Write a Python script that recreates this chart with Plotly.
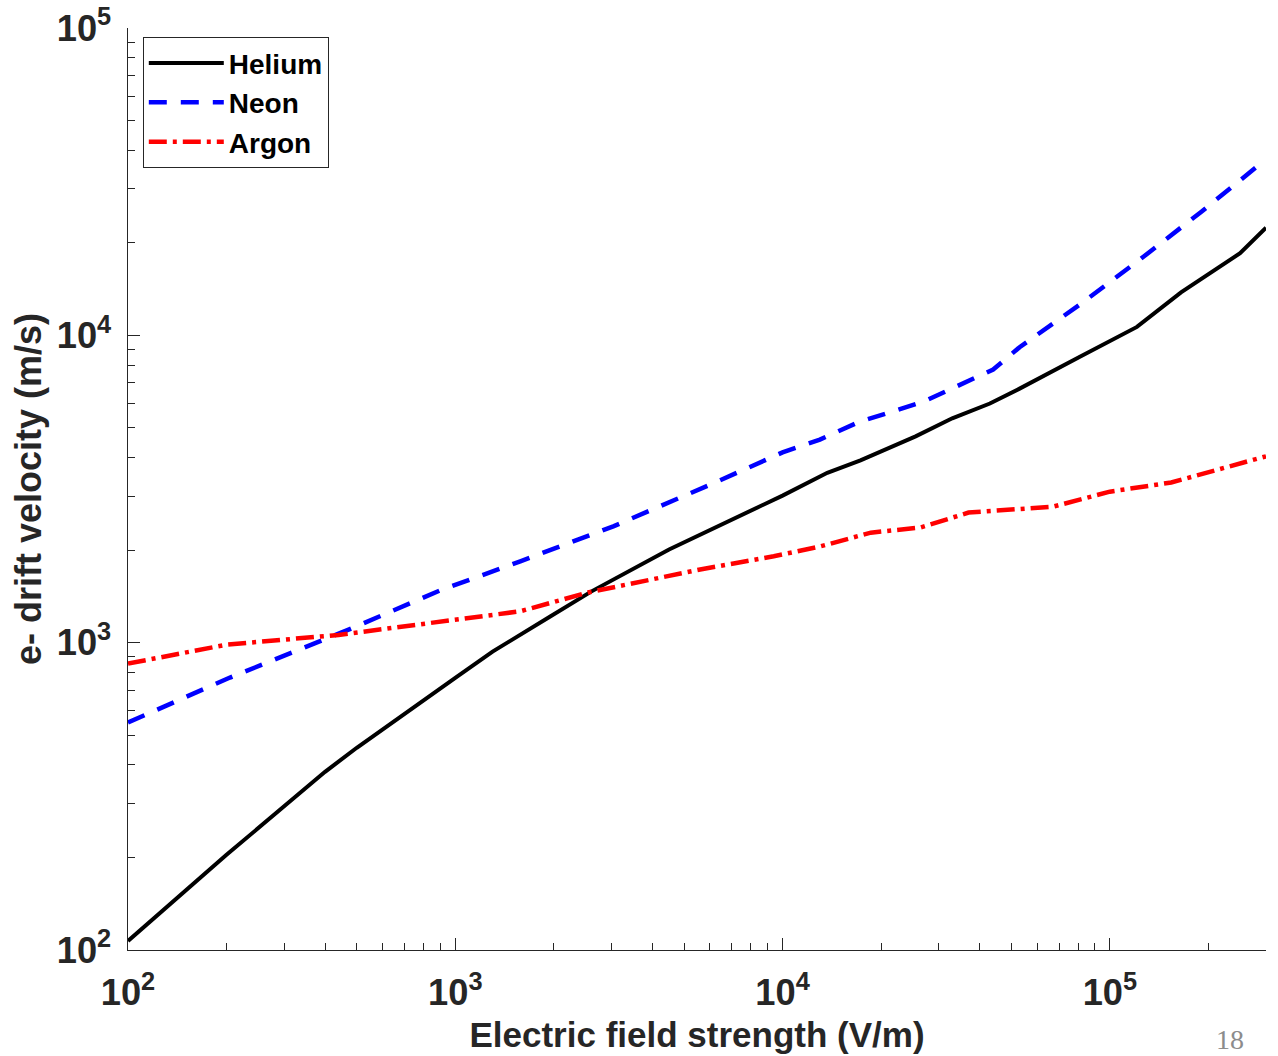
import math
import plotly.graph_objects as go

# Electron drift velocity vs. applied field for three noble gases
helium_E = [100, 200, 400, 500, 1000, 1300, 1950, 2600, 4500, 6000, 7800,
            10000, 13700, 17300, 25500, 33000, 43000, 53000, 81000, 121000,
            165000, 250000, 300000]
helium_v = [107, 204, 380, 455, 768, 935, 1216, 1466, 2010, 2320, 2640,
            3010, 3570, 3920, 4690, 5370, 6000, 6710, 8520, 10650,
            13800, 18500, 22400]

neon_E = [100, 205, 470, 900, 1580, 3040, 6300, 10000, 13000, 17000, 27000,
          44000, 53000, 81000, 124000, 190000, 300000]
neon_v = [550, 770, 1100, 1480, 1840, 2390, 3340, 4160, 4580, 5210, 6090,
          7740, 9150, 12600, 17700, 25200, 37400]

argon_E = [100, 200, 440, 900, 1220, 1580, 2540, 5600, 9400, 13000, 18600,
           26400, 37000, 67000, 100000, 154000, 300000]
argon_v = [855, 985, 1060, 1165, 1215, 1265, 1456, 1730, 1910, 2055, 2280,
           2370, 2650, 2770, 3100, 3320, 4040]

x_range = [100, 300000]
y_range = [100, 100000]

FONT = "Liberation Sans, Arial, sans-serif"
AXIS_COLOR = "#262626"

fig = go.Figure()
fig.add_trace(go.Scatter(x=helium_E, y=helium_v, mode="lines", name="Helium",
                         line=dict(color="black", width=4)))
fig.add_trace(go.Scatter(x=neon_E, y=neon_v, mode="lines", name="Neon",
                         line=dict(color="#0000ff", width=4.5, dash="18px,14px")))
fig.add_trace(go.Scatter(x=argon_E, y=argon_v, mode="lines", name="Argon",
                         line=dict(color="#ff0000", width=4.5,
                                   dash="18px,6px,4px,6px")))

axis_common = dict(
    type="log",
    dtick=1,
    exponentformat="power",
    automargin=False,
    showgrid=False,
    zeroline=False,
    showline=True,
    linecolor=AXIS_COLOR,
    linewidth=1,
    mirror=False,
    ticks="inside",
    ticklen=12,
    tickwidth=1,
    tickcolor=AXIS_COLOR,
    tickfont=dict(family=FONT, size=29, color=AXIS_COLOR, weight="bold"),
    minor=dict(ticks="inside", ticklen=7, tickwidth=1, tickcolor=AXIS_COLOR,
               dtick="D1", showgrid=False),
)

fig.update_xaxes(
    **axis_common,
    range=[math.log10(x_range[0]), math.log10(x_range[1])],
    ticklabelstandoff=12,
    title=dict(text="Electric field strength (V/m)", standoff=10,
               font=dict(family=FONT, size=35, color=AXIS_COLOR, weight="bold")),
)
fig.update_yaxes(
    **axis_common,
    range=[math.log10(y_range[0]), math.log10(y_range[1])],
    ticklabelstandoff=10,
    title=dict(text="e- drift velocity (m/s)", standoff=4,
               font=dict(family=FONT, size=36, color=AXIS_COLOR, weight="bold")),
)

fig.add_annotation(text="18", xref="paper", yref="paper", x=0.982, y=-0.097,
                   xanchor="right", yanchor="middle", showarrow=False,
                   font=dict(family="Liberation Serif, Times New Roman, serif",
                             size=28, color="#8c8c8c"))

fig.update_layout(
    width=1278, height=1056,
    margin=dict(l=128, r=12, t=28, b=106, autoexpand=False),
    paper_bgcolor="white",
    plot_bgcolor="white",
    showlegend=True,
    legend=dict(x=0.013, y=0.99, xanchor="left", yanchor="top",
                bgcolor="white", bordercolor=AXIS_COLOR, borderwidth=1,
                font=dict(family=FONT, size=28, color="black", weight="bold"),
                itemwidth=75, tracegroupgap=0),
)

fig.write_html("out.html")
